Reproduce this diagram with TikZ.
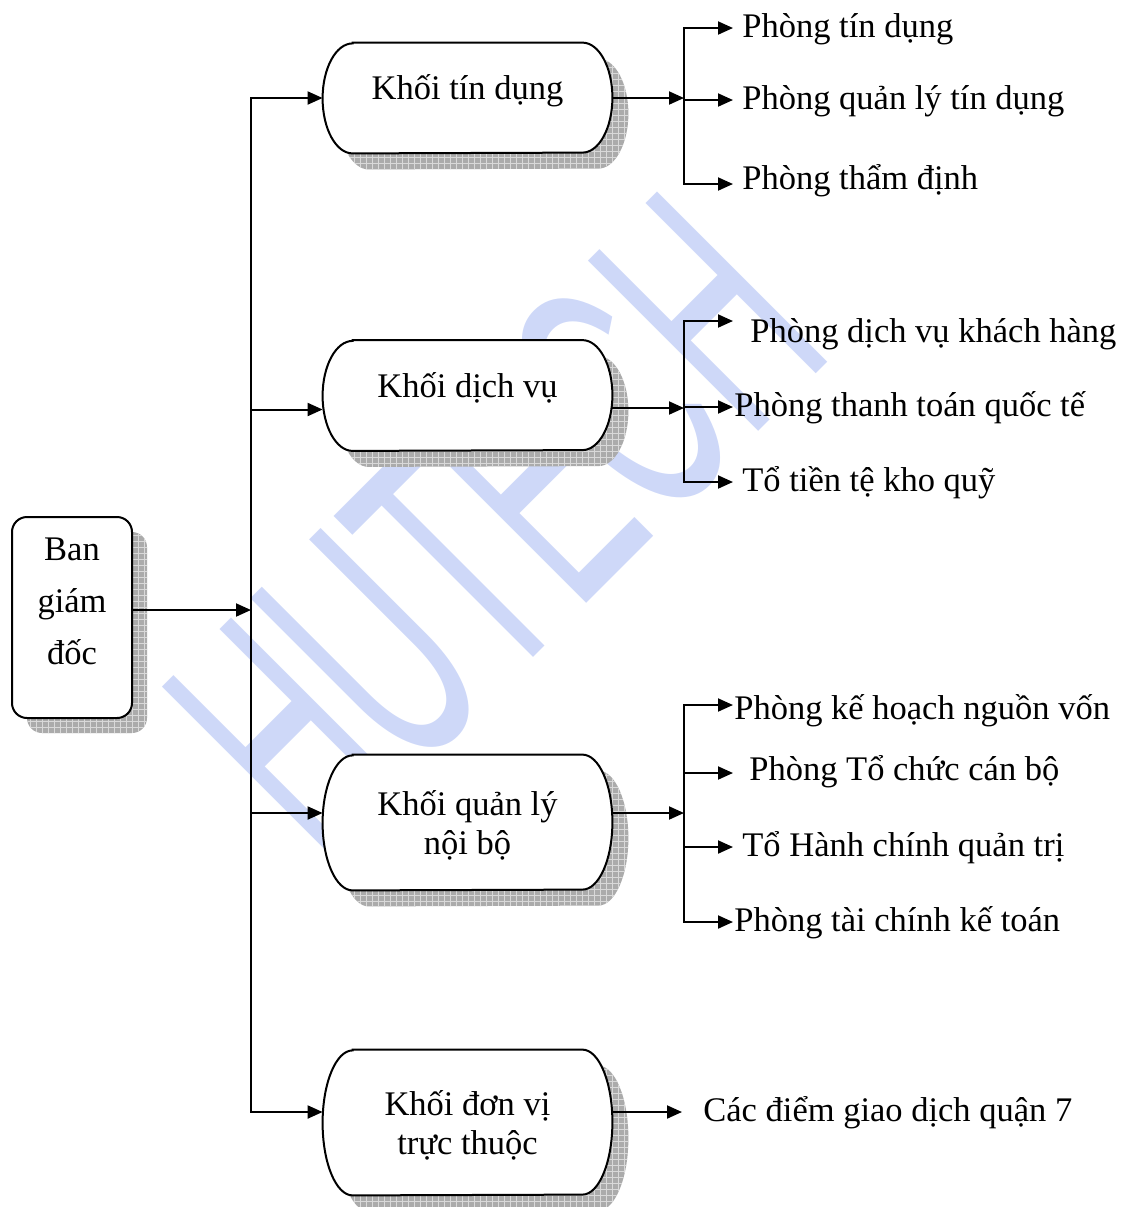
\documentclass[tikz,border=0pt]{standalone}
\usepackage{fontspec}
\setmainfont{Liberation Serif}
\newfontfamily\wmfont{Liberation Sans}
\usepackage{tikz}
\usetikzlibrary{arrows.meta,shadows,patterns,backgrounds}
\definecolor{wmblue}{RGB}{206,216,248}
\newcommand{\chu}{\fontsize{17.25}{19.5}\selectfont}
\tikzstyle{bongfill} = [fill=black!33, postaction={pattern=grid, pattern color=black!15}]
\tikzstyle{khoi} = [rectangle, minimum width=144.5pt, minimum height=55pt, align=center, font=\chu, text depth=11pt]
\tikzstyle{bgd} = [rectangle, rounded corners=7.5pt, minimum width=60pt, minimum height=100.5pt, draw=black, line width=1pt, fill=white, align=center, text depth=16pt, font=\fontsize{17.25}{26}\selectfont, drop shadow={shadow xshift=7.5pt, shadow yshift=-7.5pt, opacity=1, bongfill}]
\tikzstyle{phong} = [anchor=west, inner xsep=4.5pt, inner ysep=0pt, text height=12pt, text depth=3pt, font=\chu]
\tikzstyle{watermark} = [text=wmblue, font=\wmfont\fontsize{175}{175}\selectfont, rotate=45, xscale=0.5, inner sep=0pt]
\tikzstyle{arrow} = [line width=1pt, -{Triangle[length=7.5pt,width=6.5pt]}]
% khung bo tron hai dau (elip) + bong
\newcommand{\khungpath}[2]{([xshift=15pt]#1.north west) -- ([xshift=-15pt]#1.north east) arc[start angle=90, end angle=-90, x radius=15pt, y radius=#2] -- ([xshift=15pt]#1.south west) arc[start angle=270, end angle=90, x radius=15pt, y radius=#2] -- cycle}
\newcommand{\khung}[2]{%
    \begin{scope}[transform canvas={xshift=8pt, yshift=-8pt}]
        \path [bongfill] \khungpath{#1}{#2};
    \end{scope}
    \path [draw=black, line width=1pt, fill=white] \khungpath{#1}{#2};
}

\begin{document}
\begin{tikzpicture}[x=0.5pt, y=-0.5pt]
    \useasboundingbox (0,0) rectangle (1128,1207);

    \node (bgd) [bgd] at (72,617.5) {Ban\\giám\\đốc};
    \node (ktd) [khoi] at (467.5,98) {Khối tín dụng};
    \node (kdv) [khoi] at (467.5,395.5) {Khối dịch vụ};
    \node (kql) [khoi, minimum height=67.5pt, text depth=0pt] at (467.5,822.5) {Khối quản lý\\nội bộ};
    \node (kdt) [khoi, minimum height=72.5pt, text depth=0pt] at (467.5,1122.5) {Khối đơn vị\\trực thuộc};

    \begin{scope}[on background layer]
        \node (wm) [watermark] at (495,525) {HUTECH};
        \khung{ktd}{27.5pt}
        \khung{kdv}{27.5pt}
        \khung{kql}{33.75pt}
        \khung{kdt}{36.25pt}
    \end{scope}

    % khoi tin dung
    \node (p11) [phong] at (733,28) {Phòng tín dụng};
    \node (p12) [phong] at (733,100) {Phòng quản lý tín dụng};
    \node (p13) [phong] at (733,180) {Phòng thẩm định};
    % khoi dich vu
    \node (p21) [phong, inner xsep=8.5pt] at (733,333) {Phòng dịch vụ khách hàng};
    \node (p22) [phong, inner xsep=0.5pt] at (733,407) {Phòng thanh toán quốc tế};
    \node (p23) [phong] at (733,482) {Tổ tiền tệ kho quỹ};
    % khoi quan ly noi bo
    \node (p31) [phong, inner xsep=0.5pt] at (733,710) {Phòng kế hoạch nguồn vốn};
    \node (p32) [phong, inner xsep=8pt] at (733,771) {Phòng Tổ chức cán bộ};
    \node (p33) [phong] at (733,847) {Tổ Hành chính quản trị};
    \node (p34) [phong, inner xsep=0.5pt] at (733,922) {Phòng tài chính kế toán};
    % khoi don vi truc thuoc
    \node (p41) [phong, inner xsep=10.5pt] at (682,1112) {Các điểm giao dịch quận 7};

    \coordinate (hub) at (251,610);
    \coordinate (s1) at (684,98);
    \coordinate (s2) at (684,408);
    \coordinate (s3) at (684,813);

    \draw [arrow] (bgd.east |- hub) -- (hub);
    \draw [arrow] (hub) |- (ktd.west);
    \draw [arrow] (hub) |- ([yshift=-7pt]kdv.west);
    \draw [arrow] (hub) |- ([yshift=4.75pt]kql.west);
    \draw [arrow] (hub) |- ([yshift=5.25pt]kdt.west);

    \draw [arrow] (ktd.east) -- (s1);
    \draw [arrow] (s1) |- (p11.west);
    \draw [arrow] (s1) |- (p12.west);
    \draw [arrow] (s1) |- ([yshift=-2pt]p13.west);

    \draw [arrow] (kdv.east |- s2) -- (s2);
    \draw [arrow] (s2) |- ([yshift=6pt]p21.west);
    \draw [arrow] (s2) |- (p22.west);
    \draw [arrow] (s2) |- (p23.west);

    \draw [arrow] (kql.east |- s3) -- (s3);
    \draw [arrow] (s3) |- ([yshift=2.5pt]p31.west);
    \draw [arrow] (s3) |- ([yshift=-1pt]p32.west);
    \draw [arrow] (s3) |- (p33.west);
    \draw [arrow] (s3) |- (p34.west);

    \draw [arrow] (kdt.east |- p41.west) -- (p41.west);
\end{tikzpicture}
\end{document}
